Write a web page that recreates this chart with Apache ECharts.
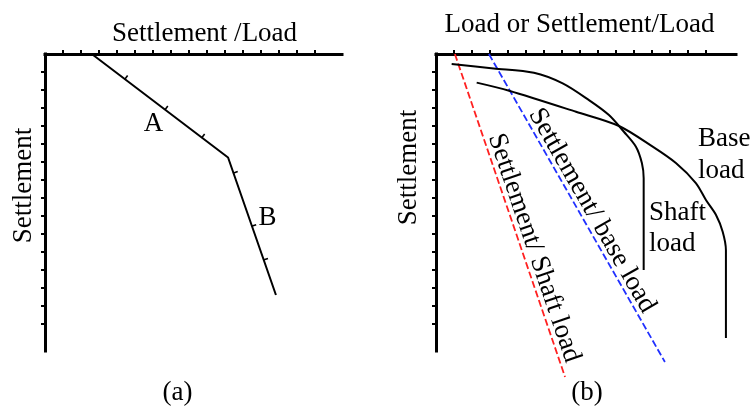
<!DOCTYPE html>
<html>
<head>
<meta charset="utf-8">
<script src="https://cdn.jsdelivr.net/npm/echarts@6/dist/echarts.min.js"></script>
<style>
  html, body { margin: 0; padding: 0; background: #fff; }
  #chart { width: 752px; height: 410px; }
</style>
</head>
<body>
<div id="chart"></div>
<script>
// Tick positions shared by both schematic axes (arbitrary units)
const tickValues = [1, 2, 3, 4, 5, 6, 7, 8, 9, 10, 11, 12, 13, 14, 15];

// (a) bilinear settlement/load plot: segment A then segment B
const aLine = [[2.6, 0], [10.17, 5.75], [12.83, 13.39]];
// marks along the polyline: [segment index, fraction along segment]
const aMarks = [[0, 0.243], [0, 0.538], [0, 0.808], [1, 0.113], [1, 0.499], [1, 0.745]];

// (b) settlement / shaft load and settlement / base load trend lines
const shaftTrend = [[1.05, 0], [7.17, 17.94]];
const baseTrend = [[2.94, 0], [12.72, 17.11]];

// (b) load–settlement curves
const shaftLoad = [
  [0.87, 0.56], [3.2, 0.8], [5.44, 1.04], [7.04, 1.63], [8.5, 2.56], [9.61, 3.39],
  [10.44, 4.32], [11.11, 5.15], [11.44, 6.06], [11.54, 6.9], [11.54, 9], [11.54, 12.0]
];
const baseLoad = [
  [2.26, 1.59], [4.06, 2.04], [7.78, 3.21], [10.17, 4.0], [12.04, 5.15], [13.33, 6.06],
  [14.44, 7.17], [15.0, 8.11], [15.56, 8.94], [15.93, 9.87], [16.11, 10.9], [16.11, 13], [16.11, 15.78]
];

const serif = '"Liberation Serif", "Times New Roman", serif';
const f27 = '27px ' + serif;

function pointOnLine(line, seg, t) {
  const a = line[seg], b = line[seg + 1];
  return [a[0] + (b[0] - a[0]) * t, a[1] + (b[1] - a[1]) * t, seg];
}
const aMarkPoints = aMarks.map(m => pointOnLine(aLine, m[0], m[1]));

function axisPair(xMax, yMax, idx) {
  const axisLine = { show: true, onZero: false, lineStyle: { color: '#000', width: 3, cap: 'square' } };
  const axisTick = { show: true, length: 4, customValues: tickValues, lineStyle: { color: '#000', width: 2 } };
  return {
    x: {
      type: 'value', gridIndex: idx, position: 'top', min: 0, max: xMax,
      axisLine, axisTick, axisLabel: { show: false }, splitLine: { show: false }
    },
    y: {
      type: 'value', gridIndex: idx, position: 'left', inverse: true, min: 0, max: yMax,
      axisLine, axisTick, axisLabel: { show: false }, splitLine: { show: false }
    }
  };
}
const pa = axisPair(16.5, 16.5, 0);
const pb = axisPair(16.67, 16.5, 1);

function text(str, x, y, opts) {
  return Object.assign({
    type: 'text', x, y,
    style: { text: str, font: f27, fill: '#000', align: 'center', verticalAlign: 'middle' }
  }, opts || {});
}
function textLeft(str, x, y) {
  return {
    type: 'text', x, y,
    style: { text: str, font: f27, fill: '#000', align: 'left', verticalAlign: 'middle' }
  };
}
const deg = Math.PI / 180;

const chart = echarts.init(document.getElementById('chart'), null, { renderer: 'canvas' });
chart.setOption({
  animation: false,
  backgroundColor: '#fff',
  grid: [
    { left: 45, top: 54, width: 297, height: 297 },
    { left: 436, top: 54, width: 300, height: 297 }
  ],
  xAxis: [pa.x, pb.x],
  yAxis: [pa.y, pb.y],
  series: [
    {
      type: 'line', xAxisIndex: 0, yAxisIndex: 0, data: aLine, symbol: 'none',
      lineStyle: { color: '#000', width: 2 }
    },
    {
      // short ticks across the bilinear line
      type: 'custom', xAxisIndex: 0, yAxisIndex: 0, data: aMarkPoints,
      encode: { x: 0, y: 1 },
      renderItem(params, api) {
        const seg = api.value(2);
        const p = api.coord([api.value(0), api.value(1)]);
        const a = api.coord(aLine[seg]);
        const b = api.coord(aLine[seg + 1]);
        let dx = b[0] - a[0], dy = b[1] - a[1];
        const len = Math.hypot(dx, dy);
        dx /= len; dy /= len;
        const nx = dy, ny = -dx;
        return {
          type: 'line',
          shape: { x1: p[0] - nx * 0.5, y1: p[1] - ny * 0.5, x2: p[0] + nx * 4.5, y2: p[1] + ny * 4.5 },
          style: { stroke: '#000', lineWidth: 1.6 }
        };
      }
    },
    {
      type: 'line', xAxisIndex: 1, yAxisIndex: 1, data: shaftTrend, symbol: 'none', clip: false,
      lineStyle: { color: '#ff2020', width: 1.8, type: [7, 3] }
    },
    {
      type: 'line', xAxisIndex: 1, yAxisIndex: 1, data: baseTrend, symbol: 'none', clip: false,
      lineStyle: { color: '#2030ff', width: 1.8, type: [7, 3] }
    },
    {
      type: 'line', xAxisIndex: 1, yAxisIndex: 1, data: shaftLoad, symbol: 'none', smooth: 0.3,
      lineStyle: { color: '#000', width: 2 }
    },
    {
      type: 'line', xAxisIndex: 1, yAxisIndex: 1, data: baseLoad, symbol: 'none', smooth: 0.3,
      lineStyle: { color: '#000', width: 2 }
    }
  ],
  graphic: [
    text('Settlement /Load', 204.5, 33.5),
    text('Settlement', 24, 185.5, { rotation: Math.PI / 2 }),
    text('A', 153.5, 124),
    text('B', 267.5, 217.5),
    text('(a)', 177.5, 392.6),
    text('Load or Settlement/Load', 579.5, 25),
    text('Settlement', 409, 167.5, { rotation: Math.PI / 2 }),
    text('Settlement/ Shaft load', 534, 248, { rotation: -71.1 * deg }),
    text('Settlement/ base load', 592, 210.5, { rotation: -60.2 * deg }),
    textLeft('Base', 698, 139),
    textLeft('load', 698, 171),
    textLeft('Shaft', 649, 212.6),
    textLeft('load', 649, 244),
    text('(b)', 587, 392.6)
  ]
});
</script>
</body>
</html>
